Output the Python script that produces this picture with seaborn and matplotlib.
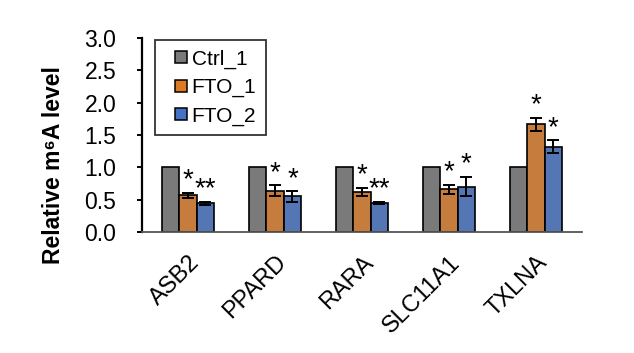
import matplotlib
matplotlib.use("Agg")
import matplotlib.pyplot as plt
import seaborn as sns
import pandas as pd
from matplotlib.lines import Line2D

genes = ["ASB2", "PPARD", "RARA", "SLC11A1", "TXLNA"]
groups = ["Ctrl_1", "FTO_1", "FTO_2"]
ctrl_vals = [1.0, 1.0, 1.0, 1.0, 1.0]
fto1_vals = [0.57, 0.64, 0.62, 0.66, 1.67]
fto2_vals = [0.44, 0.55, 0.45, 0.70, 1.32]
ctrl_err = [0, 0, 0, 0, 0]
fto1_err = [0.04, 0.08, 0.06, 0.07, 0.10]
fto2_err = [0.03, 0.08, 0.015, 0.15, 0.10]
fto1_sig = ["*", "*", "*", "*", "*"]
fto2_sig = ["**", "*", "**", "*", "*"]
colors = ["#7a7a7a", "#dd7b25", "#4472c4"]

sns.set_theme(style="ticks")
plt.rcParams["font.family"] = ["Liberation Sans", "DejaVu Sans"]
plt.rcParams["text.color"] = "black"
plt.rcParams["axes.labelcolor"] = "black"
plt.rcParams["xtick.color"] = "black"
plt.rcParams["ytick.color"] = "black"

rows = []
for g, vals in zip(groups, [ctrl_vals, fto1_vals, fto2_vals]):
    for gene, v in zip(genes, vals):
        rows.append({"gene": gene, "group": g, "value": v})
df = pd.DataFrame(rows)

fig = plt.figure(figsize=(6.34, 3.53), dpi=100)
ax = fig.add_axes([0.224, 0.343, 0.694, 0.549])
sns.barplot(data=df, x="gene", y="value", hue="group", order=genes,
            hue_order=groups, palette=colors, width=0.6, errorbar=None,
            edgecolor="black", linewidth=1.2, ax=ax, legend=False)

errs = [ctrl_err, fto1_err, fto2_err]
vals_all = [ctrl_vals, fto1_vals, fto2_vals]
sigs = [None, fto1_sig, fto2_sig]
bar_conts = list(ax.containers)
for ci, cont in enumerate(bar_conts):
    for bi, bar in enumerate(cont.patches):
        xc = bar.get_x() + bar.get_width() / 2
        v = vals_all[ci][bi]
        e = errs[ci][bi]
        if e > 0:
            ax.errorbar(xc, v, yerr=e, fmt="none", ecolor="black",
                        elinewidth=1.4, capsize=4, capthick=1.4, zorder=5)
        if sigs[ci] is not None:
            ax.text(xc, v + e - 0.01, sigs[ci][bi], ha="center", va="bottom",
                    fontsize=20, color="black")

ax.set_ylim(0, 3.0)
ax.set_yticks([0, 0.5, 1.0, 1.5, 2.0, 2.5, 3.0])
ax.set_yticklabels(["0.0", "0.5", "1.0", "1.5", "2.0", "2.5", "3.0"])
ax.set_xlabel("")
ax.set_ylabel("Relative m⁶A level", fontsize=16.5, fontweight="bold")
ax.yaxis.set_label_coords(-0.175, 0.345)
ax.tick_params(axis="y", labelsize=16.5, length=3.5, width=1.4, pad=15)
ax.tick_params(axis="x", labelsize=17, length=0, pad=14)
plt.setp(ax.get_xticklabels(), rotation=45, ha="right", rotation_mode="anchor")
sns.despine(ax=ax)
ax.spines["left"].set_linewidth(1.6)
ax.spines["left"].set_color("black")
ax.spines["bottom"].set_linewidth(1.3)
ax.spines["bottom"].set_color("#555555")

handles = [Line2D([], [], linestyle="none", marker="s", markersize=9,
                  markerfacecolor=c, markeredgecolor="black", markeredgewidth=1.1,
                  label=g) for g, c in zip(groups, colors)]
leg = ax.legend(handles=handles, loc="upper left", bbox_to_anchor=(0.03, 0.99),
                fontsize=15, frameon=True, fancybox=False, edgecolor="black",
                handlelength=1.6, handletextpad=-0.3,
                borderpad=0.45, labelspacing=0.45, borderaxespad=0)
leg.get_frame().set_linewidth(1.3)

fig.savefig("out.png", dpi=100)
